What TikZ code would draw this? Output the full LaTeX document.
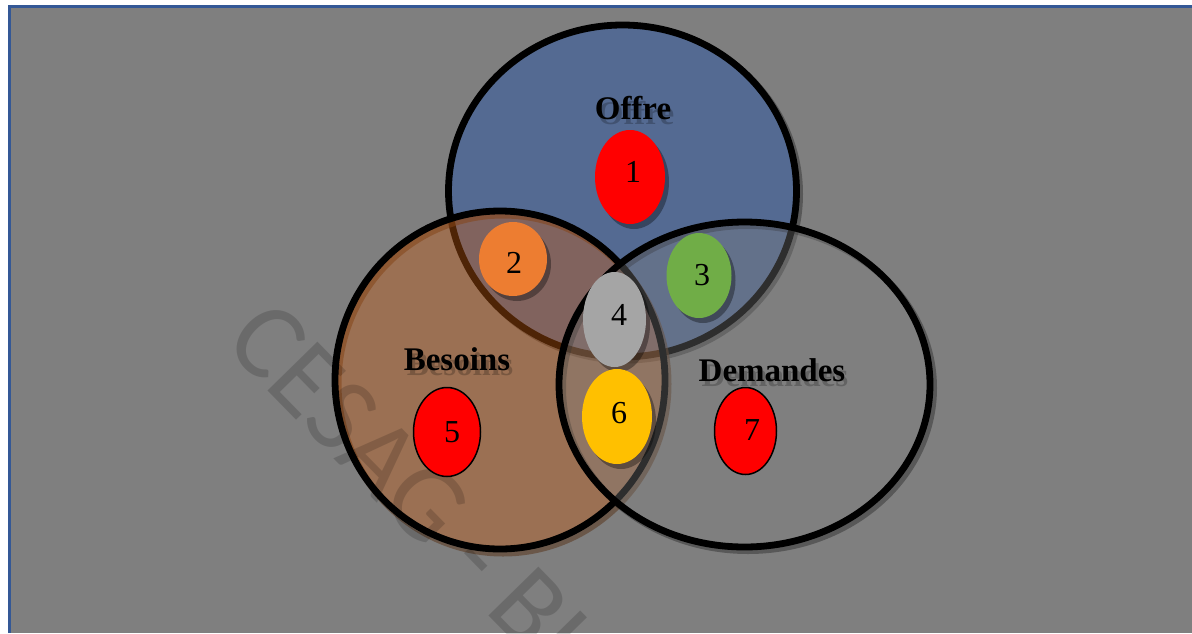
\documentclass[tikz,border=0pt]{standalone}
\usepackage{fontspec}
\setmainfont{Liberation Serif}
\newfontfamily\wmfont{Carlito}
\usetikzlibrary{shapes.geometric}
\definecolor{bgray}{RGB}{127,127,127}
\definecolor{frameblue}{RGB}{52,88,150}
\definecolor{offrec}{RGB}{84,106,146}
\definecolor{besoinsc}{RGB}{197,90,17}
\definecolor{besoinsshadow}{RGB}{90,55,30}
\definecolor{red1}{RGB}{255,0,0}
\definecolor{orange2}{RGB}{237,125,49}
\definecolor{green3}{RGB}{112,173,71}
\definecolor{gray4}{RGB}{165,165,165}
\definecolor{yellow6}{RGB}{255,192,0}
\begin{document}
\begin{tikzpicture}[x=1pt,y=-1pt,
  bigc/.style={ellipse, draw=black, line width=6.8pt, inner sep=0pt},
  bigshadow/.style={ellipse, draw=black, draw opacity=0.3, line width=7pt, inner sep=0pt},
  small/.style={ellipse, inner sep=0pt},
  smallshadow/.style={ellipse, inner sep=0pt, fill=black, fill opacity=0.35},
  num/.style={font=\fontsize{32}{32}\selectfont, text=black, inner sep=0pt},
  lab/.style={font=\fontsize{33}{33}\selectfont\bfseries, text=black, inner sep=0pt},
  labshadow/.style={font=\fontsize{33}{33}\selectfont\bfseries, text=black, text opacity=0.22, inner sep=0pt},
]
\useasboundingbox (0,0) rectangle (1192,633);
\fill[white] (0,0) rectangle (1192,633);
\fill[bgray] (9,6) rectangle (1192,633);
\draw[frameblue, line width=3pt] (9,633) -- (9,6) -- (1192,6);

% big circles
\node[bigshadow, minimum width=348pt, minimum height=332pt] (offreS) at (625.5,194) {};
\node[bigc, fill=offrec, minimum width=348pt, minimum height=332pt] (offre) at (622.5,191) {};
\node[bigshadow, draw=besoinsshadow, draw opacity=0.55, minimum width=330pt, minimum height=338pt] (besoinsS) at (503,384) {};
\node[bigc, fill=besoinsc, fill opacity=0.4, minimum width=330pt, minimum height=338pt] (besoins) at (500,380) {};
\node[bigshadow, minimum width=371pt, minimum height=325pt] (demandesS) at (748,388) {};
\node[bigc, fill=bgray, fill opacity=0.37, minimum width=371pt, minimum height=325pt] (demandes) at (744.5,384.5) {};

% watermark
\begin{scope}
\clip (0,0) rectangle (1192,633);
\node[font=\wmfont\fontsize{109}{109}\selectfont, text=black, text opacity=0.16, rotate=-45.6, anchor=base west, inner sep=0pt] (wm) at (222,344) {CESAG - BI};
\end{scope}

% small ellipses
\node[smallshadow, minimum width=70pt, minimum height=94pt] (e1s) at (634,182) {};
\node[small, fill=red1, minimum width=70pt, minimum height=94pt] (e1) at (630,177) {};
\node[smallshadow, minimum width=68pt, minimum height=74pt] (e2s) at (517,264) {};
\node[small, fill=orange2, minimum width=68pt, minimum height=74pt] (e2) at (513,259) {};
\node[smallshadow, minimum width=65pt, minimum height=85pt] (e3s) at (703,280.5) {};
\node[small, fill=green3, minimum width=65pt, minimum height=85pt] (e3) at (699,275.5) {};
\node[smallshadow, minimum width=63pt, minimum height=95pt] (e4s) at (618.5,324.5) {};
\node[small, fill=gray4, minimum width=63pt, minimum height=95pt] (e4) at (614.5,319.5) {};
\node[small, fill=red1, draw=black, line width=1.5pt, minimum width=67pt, minimum height=89pt] (e5) at (447,432) {};
\node[smallshadow, minimum width=70pt, minimum height=95pt] (e6s) at (621,421.5) {};
\node[small, fill=yellow6, minimum width=70pt, minimum height=95pt] (e6) at (617,416.5) {};
\node[small, fill=red1, draw=black, line width=1.5pt, minimum width=62pt, minimum height=87pt] (e7) at (745.5,431) {};

% numbers
\node[num] (n1) at (633,172) {1};
\node[num] (n2) at (514,263) {2};
\node[num] (n3) at (702,275) {3};
\node[num] (n4) at (619,315) {4};
\node[num] (n5) at (452,432) {5};
\node[num] (n6) at (619,413) {6};
\node[num] (n7) at (752,430) {7};

% labels
\node[labshadow] (offreLs) at (636,113) {Offre};
\node[lab] (offreL) at (633,108) {Offre};
\node[labshadow] (besoinsLs) at (460,364) {Besoins};
\node[lab] (besoinsL) at (457,359) {Besoins};
\node[labshadow] (demandesLs) at (775,375) {Demandes};
\node[lab] (demandesL) at (772,370) {Demandes};
\end{tikzpicture}
\end{document}
